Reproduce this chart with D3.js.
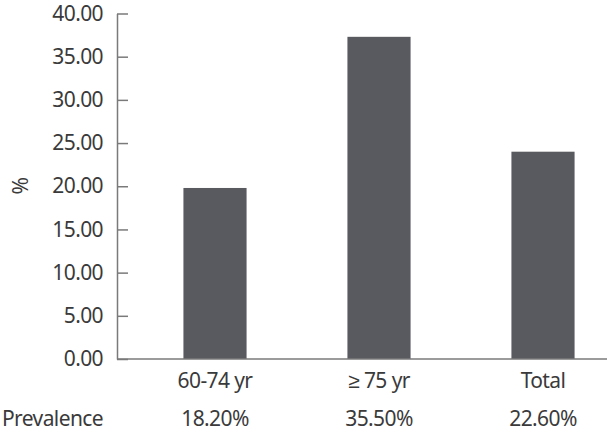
<!DOCTYPE html>
<html>
<head>
<meta charset="utf-8">
<script src="https://cdn.jsdelivr.net/npm/d3@7"></script>
<style>
  body { margin: 0; background: #fff; }
  text { font-family: "Noto Sans", sans-serif; fill: #3a3a3a; letter-spacing: -0.6px; }
</style>
</head>
<body>
<div id="chart"></div>
<script>
// data
const categories = ["60-74 yr", "\u2265 75 yr", "Total"];
const values = [19.8, 37.3, 24.0];
const prevalence = ["18.20%", "35.50%", "22.60%"];
const yTicks = [0, 5, 10, 15, 20, 25, 30, 35, 40];

const width = 612, height = 431;
const axisColor = "#7a7a7a";
const barColor = "#595a5f";
const fontSize = "21px";

let svg = d3.select("#chart").append("svg")
    .attr("width", width)
    .attr("height", height);

let y = d3.scaleLinear()
    .domain([0, 40])
    .range([359, 13.5]);

let x = d3.scaleBand()
    .domain(categories)
    .range([133, 625])
    .paddingInner(0.615)
    .paddingOuter(0.3075);

// y axis, ticks pointing inward
let yAxis = svg.append("g")
    .attr("transform", "translate(117,0)")
    .call(d3.axisLeft(y)
        .tickValues(yTicks)
        .tickFormat(d3.format(".2f"))
        .tickSizeInner(-11)
        .tickSizeOuter(0)
        .tickPadding(14));

yAxis.select(".domain").attr("stroke", axisColor).attr("stroke-width", 1.5);
yAxis.selectAll(".tick line").attr("stroke", axisColor).attr("stroke-width", 1.5);
yAxis.selectAll(".tick text")
    .style("font-family", "'Noto Sans', sans-serif")
    .style("font-size", fontSize)
    .attr("fill", "#3a3a3a");

// bars
svg.selectAll("rect.bar").data(values)
    .enter()
    .append("rect")
    .attr("class", "bar")
    .attr("x", (d, i) => x(categories[i]))
    .attr("y", d => y(d))
    .attr("width", x.bandwidth())
    .attr("height", d => y(0) - y(d))
    .attr("fill", barColor);

// x baseline
svg.append("line")
    .attr("x1", 117)
    .attr("x2", 607)
    .attr("y1", y(0))
    .attr("y2", y(0))
    .attr("stroke", axisColor)
    .attr("stroke-width", 1.5);

// category labels
let xAxis = svg.append("g")
    .attr("transform", "translate(0," + y(0) + ")")
    .call(d3.axisBottom(x).tickSize(0).tickPadding(14));
xAxis.select(".domain").remove();
xAxis.selectAll(".tick text")
    .style("font-family", "'Noto Sans', sans-serif")
    .style("font-size", fontSize)
    .attr("fill", "#3a3a3a");

// prevalence row
svg.selectAll("text.prev").data(prevalence)
    .enter()
    .append("text")
    .attr("class", "prev")
    .attr("x", (d, i) => x(categories[i]) + x.bandwidth() / 2)
    .attr("y", 426)
    .attr("text-anchor", "middle")
    .style("font-size", fontSize)
    .text(d => d);

svg.append("text")
    .attr("x", 2)
    .attr("y", 426)
    .style("font-size", fontSize)
    .text("Prevalence");

// y label
svg.append("text")
    .attr("transform", "translate(28,186) rotate(-90)")
    .attr("text-anchor", "middle")
    .style("font-size", fontSize)
    .text("%");
</script>
</body>
</html>
